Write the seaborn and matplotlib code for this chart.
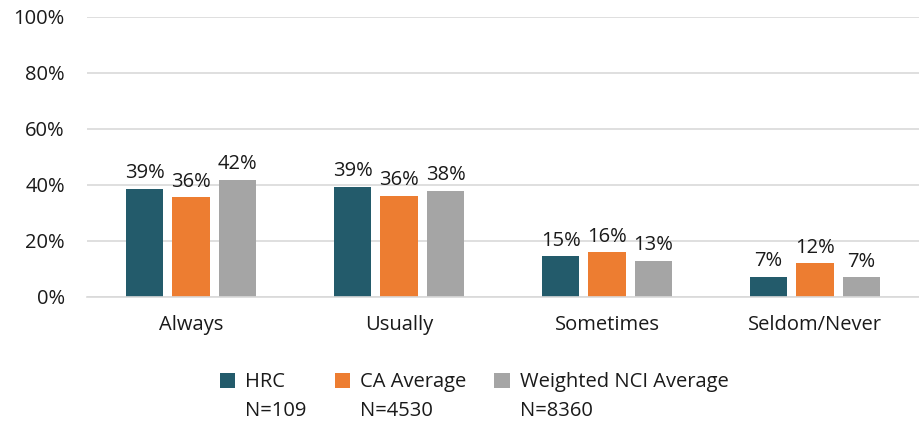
import numpy as np
import pandas as pd

import matplotlib
matplotlib.use('Agg')
import matplotlib.pyplot as plt
from matplotlib.patches import Patch
import seaborn as sns

categories = ['Always', 'Usually', 'Sometimes', 'Seldom/Never']
groups = ['HRC', 'CA Average', 'Weighted NCI Average']
group_n = ['N=109', 'N=4530', 'N=8360']
hrc = [38.6, 39.3, 14.6, 7.3]
ca_avg = [35.6, 36.2, 16.0, 12.0]
nci_avg = [41.9, 38.0, 13.0, 7.0]
colors = ['#235B6B', '#ED7D31', '#A5A5A5']

df = pd.DataFrame({'category': categories * 3,
                   'group': [groups[0]] * 4 + [groups[1]] * 4 + [groups[2]] * 4,
                   'value': hrc + ca_avg + nci_avg})

sns.set_style('white')
plt.rcParams['font.family'] = ['Open Sans', 'DejaVu Sans']
fs = 14.5

fig = plt.figure(figsize=(9.19, 4.23), dpi=100)
ax = fig.add_axes([0.0947, 0.298, 0.9053, 0.662])

sns.barplot(data=df, x='category', y='value', hue='group', order=categories,
            hue_order=groups, palette=colors, width=0.67, gap=0.2,
            saturation=1, legend=False, linewidth=0, ax=ax)

for c in ax.containers:
    ax.bar_label(c, labels=['%d%%' % round(v) for v in c.datavalues],
                 padding=4, fontsize=fs, color='#1a1a1a')

ax.set_ylim(0, 100)
ax.set_xlim(-0.5, 3.5)
ax.set_yticks(range(0, 101, 20))
ax.set_yticklabels(['%d%%' % t for t in range(0, 101, 20)])
ax.yaxis.grid(True, color='#d9d9d9', linewidth=1.2)
ax.set_axisbelow(True)
for s in ['top', 'right', 'left']:
    ax.spines[s].set_visible(False)
ax.spines['bottom'].set_color('#d9d9d9')
ax.spines['bottom'].set_linewidth(1.2)
ax.tick_params(axis='y', length=0, pad=16, labelsize=fs, labelcolor='#1a1a1a')
ax.tick_params(axis='x', length=0, pad=13, labelsize=fs, labelcolor='#1a1a1a')
ax.set_xlabel('')
ax.set_ylabel('')

handles = []
labels = []
for g, n, col in zip(groups, group_n, colors):
    handles.append(Patch(facecolor=col, edgecolor='none'))
    labels.append(g)
    handles.append(Patch(facecolor='none', edgecolor='none'))
    labels.append(n)
fig.legend(handles, labels, ncol=3, loc='center', bbox_to_anchor=(0.516, 0.062),
           frameon=False, fontsize=fs, handlelength=0.75, handleheight=0.75,
           handletextpad=0.5, columnspacing=1.4, labelspacing=0.45,
           labelcolor='#1a1a1a')

fig.savefig('out.png', dpi=100)
